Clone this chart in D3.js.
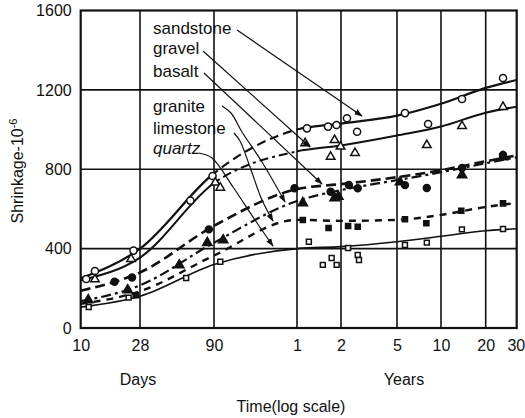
<!DOCTYPE html>
<html><head><meta charset="utf-8">
<script src="https://cdn.jsdelivr.net/npm/d3@7"></script>
<style>
body{margin:0;background:#fff;}
text{font-family:"Liberation Sans",Arial,sans-serif;fill:#111;}
</style></head>
<body><svg id="c" width="525" height="418"></svg>
<script>
// ---- data ----
const tickDays   = [10, 28, 90, 365, 730, 1826, 3652, 7305, 10957];
const tickLabels = ["10", "28", "90", "1", "2", "5", "10", "20", "30"];
const yTicks     = [0, 400, 800, 1200, 1600];
const curveDays  = [10, 28, 90, 365, 730, 1826, 3652, 7305, 10957];

const sandstone = [250, 400, 780, 1000, 1030, 1070, 1130, 1210, 1250];
const gravel    = [240, 355, 730, 890, 920, 970, 1015, 1085, 1115];
const basalt    = [188, 280, 515, 700, 725, 760, 795, 840, 870];
const granite   = [135, 215, 430, 640, 695, 745, 785, 830, 860];
const limestone = [122, 185, 365, 545, 540, 545, 570, 610, 630];
const quartz    = [105, 160, 320, 400, 410, 435, 462, 490, 500];

const sandstonePts = [[11,247],[12.8,287],[25,390],[62,642],[88,766],[427,1006],[595,1015],[680,1023],[805,1057],[950,989],[2070,1083],[2980,1028],[5060,1154],[9160,1260]];
const gravelPts    = [[12.8,245],[24,348],[92,733],[100,707],[415,931],[620,863],[660,947],[725,914],[918,882],[2920,922],[5060,1018],[9160,1114]];
const basaltPts    = [[18,233],[24.4,255],[83,497],[350,704],[620,687],[830,721],[960,704],[2070,720],[2920,705],[5060,806],[9160,872]];
const granitePts   = [[11.4,141],[22.6,191],[52,317],[81,430],[105,443],[400,630],[660,655],[700,662],[1915,735],[5060,771],[9160,862]];
const limestonePts = [[26,165],[400,544],[600,504],[820,514],[960,510],[2070,548],[2900,528],[5000,591],[9160,628]];
const quartzPts    = [[11.5,106],[23,153],[58,252],[100,334],[440,435],[548,318],[630,353],[682,318],[820,403],[960,368],[980,343],[2070,418],[2920,430],[5050,497],[9160,499]];

const names = ["sandstone","gravel","basalt","granite","limestone","quartz"];

// ---- layout ----
const svg = d3.select("#c");
const x = d3.scaleLog().domain(tickDays).range([80.7,140,214,297,341,397,441,485.7,516.7]);
const y = d3.scaleLinear().domain([0,1600]).range([328,10.5]);
const L = x(10), R = x(10957), T = y(1600), B = y(0);

// grid
const g = svg.append("g");
g.selectAll(".vg").data(tickDays.slice(1,-1)).enter().append("line")
  .attr("x1",d=>x(d)).attr("x2",d=>x(d)).attr("y1",T).attr("y2",B)
  .attr("stroke","#111").attr("stroke-width",1.6);
g.selectAll(".hg").data(yTicks.slice(1,-1)).enter().append("line")
  .attr("x1",L).attr("x2",R).attr("y1",d=>y(d)).attr("y2",d=>y(d))
  .attr("stroke","#111").attr("stroke-width",1.6);
g.append("rect").attr("x",L).attr("y",T).attr("width",R-L).attr("height",B-T)
  .attr("fill","none").attr("stroke","#111").attr("stroke-width",2.2);

// axes labels
const xAxis = d3.axisBottom(x).tickValues(tickDays).tickFormat((d,i)=>tickLabels[i]).tickSize(0).tickPadding(12);
const xa = svg.append("g").attr("transform",`translate(0,${B})`).call(xAxis);
xa.select(".domain").remove();
xa.selectAll("text").style("font-size","16px").attr("fill","#111");
xa.selectAll(".tick").filter(d=>d===10957).select("text").attr("text-anchor","end").attr("x",8);
const yAxis = d3.axisLeft(y).tickValues(yTicks).tickFormat(d3.format("d")).tickSize(0).tickPadding(9);
const ya = svg.append("g").attr("transform",`translate(${L},0)`).call(yAxis);
ya.select(".domain").remove();
ya.selectAll("text").style("font-size","16px").attr("fill","#111");

svg.append("text").attr("x",x(28)-2).attr("y",385).attr("text-anchor","middle").style("font-size","16px").text("Days");
svg.append("text").attr("x",404).attr("y",385).attr("text-anchor","middle").style("font-size","16px").text("Years");
svg.append("text").attr("x",291).attr("y",412).attr("text-anchor","middle").style("font-size","16px").text("Time(log scale)");
const yt = svg.append("text").attr("transform","translate(23,171) rotate(-90)").attr("text-anchor","middle").style("font-size","16px");
yt.append("tspan").text("Shrinkage-10");
yt.append("tspan").attr("dy",-6).style("font-size","11px").text("-6");

// clip regions for dashed middle section
const defs = svg.append("defs");
const cs = defs.append("clipPath").attr("id","solidC");
cs.append("rect").attr("x",0).attr("y",0).attr("width",x(90)).attr("height",418);
cs.append("rect").attr("x",x(365)).attr("y",0).attr("width",525).attr("height",418);
defs.append("clipPath").attr("id","midC").append("rect").attr("x",x(90)).attr("y",0).attr("width",x(365)-x(90)).attr("height",418);
defs.append("marker").attr("id","arr").attr("viewBox","0 0 10 10").attr("refX",9).attr("refY",5)
  .attr("markerWidth",7).attr("markerHeight",7).attr("orient","auto")
  .append("path").attr("d","M0,1.5 L10,5 L0,8.5 Z").attr("fill","#111");

const line = d3.line().x(d=>x(d[0])).y(d=>y(d[1])).curve(d3.curveMonotoneX);
const series = {sandstone, gravel, basalt, granite, limestone, quartz};
const styles = {
  sandstone:{w:2.2, dash:null, mid:"9,5"},
  gravel:{w:2, dash:null, mid:"9,4,3,4"},
  basalt:{w:2.6, dash:"10,5"},
  granite:{w:2.2, dash:"10,4,3,4"},
  limestone:{w:2.4, dash:"7,6"},
  quartz:{w:1.6, dash:null}
};
names.forEach(n=>{
  const pts = curveDays.map((d,i)=>[d, series[n][i]]);
  const st = styles[n];
  if (st.mid) {
    svg.append("path").attr("d",line(pts)).attr("fill","none").attr("stroke","#111")
      .attr("stroke-width",st.w).attr("clip-path","url(#solidC)");
    svg.append("path").attr("d",line(pts)).attr("fill","none").attr("stroke","#111")
      .attr("stroke-width",st.w).attr("stroke-dasharray",st.mid).attr("clip-path","url(#midC)");
  } else {
    svg.append("path").attr("d",line(pts)).attr("fill","none").attr("stroke","#111")
      .attr("stroke-width",st.w).attr("stroke-dasharray",st.dash);
  }
});

// markers
const sym = {
  sandstone:{t:d3.symbolCircle,s:40,fill:"#fff"},
  gravel:{t:d3.symbolTriangle,s:32,fill:"#fff"},
  basalt:{t:d3.symbolCircle,s:38,fill:"#111"},
  granite:{t:d3.symbolTriangle,s:38,fill:"#111"},
  limestone:{t:d3.symbolSquare,s:26,fill:"#111"},
  quartz:{t:d3.symbolSquare,s:24,fill:"#fff"}
};
const pts = {sandstone:sandstonePts, gravel:gravelPts, basalt:basaltPts, granite:granitePts, limestone:limestonePts, quartz:quartzPts};
names.forEach(n=>{
  const s = sym[n];
  svg.append("g").selectAll("path").data(pts[n]).enter().append("path")
    .attr("transform",d=>`translate(${x(d[0])},${y(d[1])})`)
    .attr("d",d3.symbol().type(s.t).size(s.s))
    .attr("fill",s.fill).attr("stroke","#111").attr("stroke-width",1.5);
});

// labels + leaders (annotation layout in pixels)
const labelLayout = [
  {n:"sandstone", tx:153, ty:34, path:[[237,30],[362,116]], italic:false},
  {n:"gravel",    tx:153, ty:54, path:[[203,51],[310,147]], italic:false},
  {n:"basalt",    tx:153, ty:77, path:[[204,73],[322,184]], italic:false},
  {n:"granite",   tx:153, ty:112, path:[[222,106],[231,113],[242,132],[262,162],[285,202]], italic:false},
  {n:"limestone", tx:153, ty:134, path:[[234,133],[240,141],[250,167],[262,200],[273,221]], italic:false},
  {n:"quartz",    tx:153, ty:154, path:[[199,153],[212,158],[233,187],[255,220],[273,246]], italic:true}
];
const lp = d3.line().curve(d3.curveCatmullRom);
labelLayout.forEach(a=>{
  svg.append("text").attr("x",a.tx).attr("y",a.ty).style("font-size","17px")
    .style("font-style",a.italic?"italic":"normal").text(a.n);
  svg.append("path").attr("d",lp(a.path)).attr("fill","none").attr("stroke","#111")
    .attr("stroke-width",1.2).attr("marker-end","url(#arr)");
});
</script></body></html>
